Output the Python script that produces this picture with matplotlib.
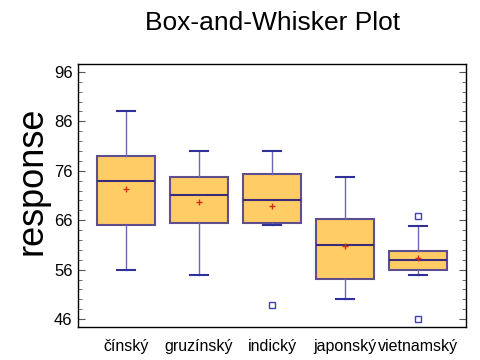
import numpy as np
import matplotlib
matplotlib.use("Agg")
import matplotlib.pyplot as plt
from matplotlib.ticker import MultipleLocator

plt.rcParams['font.family'] = ['Liberation Sans', 'DejaVu Sans']

groups = ["čínský", "gruzínský", "indický", "japonský", "vietnamský"]
whislo = [56.0, 55.0, 65.0, 50.0, 55.0]
q1 = [65.0, 65.4, 65.4, 54.2, 55.9]
med = [74.0, 71.0, 70.0, 61.0, 57.9]
q3 = [79.0, 74.8, 75.4, 66.3, 59.8]
whishi = [88.0, 80.0, 80.0, 74.8, 64.9]
means = [72.4, 69.6, 68.9, 60.8, 58.3]
fliers = [[], [], [48.9], [], [66.9, 46.0]]

stats = []
for i in range(len(groups)):
    stats.append(dict(label=groups[i], whislo=whislo[i], q1=q1[i], med=med[i],
                      q3=q3[i], whishi=whishi[i], mean=means[i], fliers=fliers[i]))

fig = plt.figure(figsize=(4.8, 3.6), dpi=100)
ax = fig.add_axes([0.1625, 0.0917, 0.8085, 0.7305])

ax.bxp(stats, widths=0.795, capwidths=0.25, showmeans=True, patch_artist=True,
       boxprops=dict(facecolor="#FFCC66", edgecolor="#5E4E8E", linewidth=1.5),
       medianprops=dict(color="#3A2A7A", linewidth=1.5),
       whiskerprops=dict(color="#6A6AB4", linewidth=1.0),
       capprops=dict(color="#30309A", linewidth=1.5),
       meanprops=dict(marker="+", markeredgecolor="#D03010", markersize=5, markeredgewidth=1.0),
       flierprops=dict(marker="s", markerfacecolor="none", markeredgecolor="#4040B0",
                       markersize=4, markeredgewidth=1.0))

ax.set_xlim(0.34, 5.66)
ax.set_ylim(44.4, 97.6)
ax.set_yticks([46, 56, 66, 76, 86, 96])
ax.yaxis.set_minor_locator(MultipleLocator(2))
ax.tick_params(axis='y', which='both', direction='in', right=True, labelsize=12, pad=4)
ax.tick_params(axis='y', which='major', length=5, color="#555555")
ax.tick_params(axis='y', which='minor', length=3, color="#555555")
ax.tick_params(axis='x', length=0, labelsize=11.5, pad=9)
for s in ax.spines.values():
    s.set_linewidth(1.0)

fig.text(0.066, 0.497, "response", fontsize=26, rotation=90, ha="center", va="center")
fig.text(0.567, 0.937, "Box-and-Whisker Plot", fontsize=19, ha="center", va="center")

fig.savefig("out.png", dpi=100)
